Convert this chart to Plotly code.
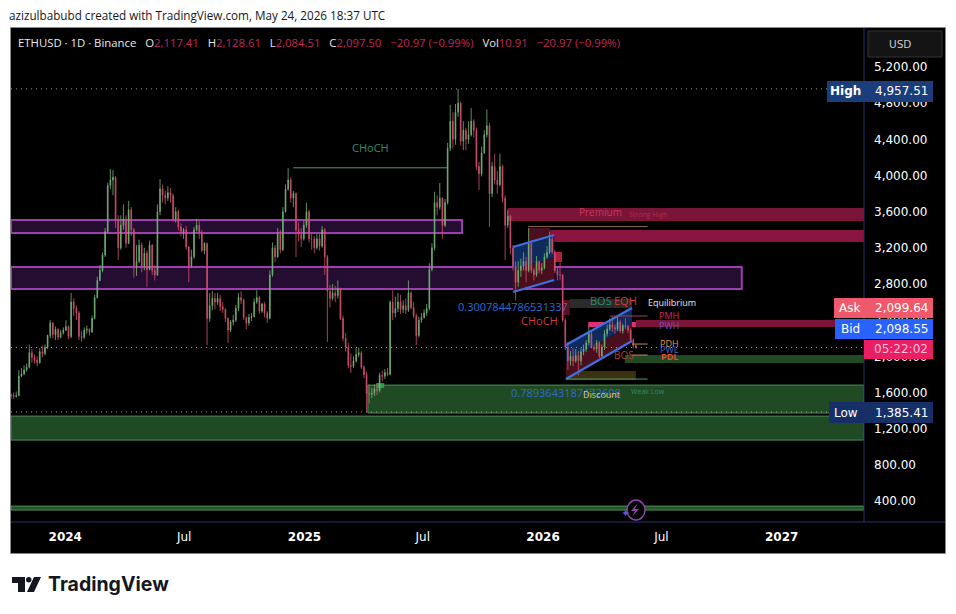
import pandas as pd
import plotly.graph_objs as go

W = 956
H = 614
PLOT_L = 11
PLOT_R = 864
PLOT_T = 28
PLOT_B = 522

FONT = 'DejaVu Sans'
HEAD_FONT = 'Open Sans'

# price data, one candle every 4 days
START_DATE = '2023-10-10'
closes = [
    1570, 1555, 1565, 1780, 1805, 1850, 1880, 2040, 1990, 1960,
    1930, 2050, 2030, 2100, 2230, 2370, 2240, 2300, 2210, 2260,
    2290, 2330, 2220, 2600, 2530, 2480, 2220, 2210, 2290, 2300,
    2270, 2420, 2650, 2840, 2950, 3120, 3380, 3890, 3950, 3980,
    3500, 3200, 3450, 3520, 3250, 3620, 3400, 3000, 3050, 3230,
    3000, 3140, 2960, 3230, 2950, 2900, 3600, 3850, 3780, 3750,
    3810, 3780, 3520, 3600, 3430, 3380, 3400, 3210, 3000, 3100,
    3400, 3450, 3370, 3170, 3250, 2420, 2560, 2640, 2600, 2640,
    2550, 2520, 2420, 2290, 2380, 2400, 2530, 2650, 2620, 2430,
    2370, 2430, 2440, 2600, 2650, 2500, 2580, 2480, 2420, 2900,
    3200, 3100, 3350, 3180, 3600, 3850, 3950, 3750, 3800, 3400,
    3350, 3300, 3450, 3600, 3300, 3300, 3200, 3300, 3220, 3400,
    3100, 2720, 2640, 2700, 2670, 2750, 2420, 2200, 2100, 1900,
    1890, 1950, 2020, 2040, 1880, 1800, 1590, 1580, 1590, 1640,
    1620, 1790, 1780, 1820, 1800, 2600, 2480, 2530, 2600, 2520,
    2560, 2510, 2700, 2540, 2450, 2230, 2400, 2430, 2480, 2530,
    2960, 3200, 3700, 3650, 3750, 3450, 3700, 4300, 4600, 4400,
    4700, 4800, 4380, 4500, 4400, 4450, 4600, 4500, 4100, 4020,
    4250, 4450, 4550, 3800, 4100, 3950, 3900, 4100, 3750, 3450,
    3550, 3200, 3000, 2820, 2950, 3000, 3050, 2950, 3250, 2950,
    2900, 3050, 2950, 2980, 3100, 3150, 3300, 3150, 2950, 2900,
    2900, 2400, 2100, 1950, 2000, 1950, 2010, 1950, 2050, 2080,
    2150, 2250, 2100, 2080, 2150, 2000, 2100, 2250, 2300, 2350,
    2320, 2300, 2380, 2280, 2340, 2330, 2290, 2180, 2120, 2097.5,
]
highs = [
    1590, 1600, 1610, 1850, 1870, 1900, 1920, 2130, 2080, 2020,
    2000, 2090, 2120, 2130, 2240, 2400, 2380, 2330, 2310, 2290,
    2320, 2400, 2340, 2700, 2640, 2560, 2500, 2280, 2320, 2340,
    2310, 2450, 2680, 2880, 3010, 3150, 3420, 3920, 4072, 4060,
    3990, 3560, 3560, 3680, 3560, 3720, 3650, 3420, 3230, 3290,
    3260, 3200, 3170, 3280, 3240, 3010, 3680, 3960, 3900, 3830,
    3880, 3860, 3800, 3650, 3620, 3470, 3420, 3440, 3220, 3180,
    3430, 3520, 3500, 3400, 3260, 3250, 2700, 2720, 2700, 2700,
    2680, 2600, 2530, 2430, 2400, 2460, 2570, 2700, 2720, 2640,
    2440, 2470, 2480, 2640, 2730, 2670, 2590, 2600, 2500, 2950,
    3260, 3230, 3420, 3400, 3650, 3900, 4080, 3980, 3830, 3810,
    3480, 3420, 3500, 3700, 3620, 3360, 3330, 3350, 3350, 3440,
    3420, 3120, 2790, 2800, 2780, 2840, 2760, 2450, 2260, 2150,
    2030, 2000, 2090, 2100, 2060, 1900, 1830, 1690, 1650, 1690,
    1700, 1820, 1840, 1860, 1870, 2620, 2730, 2660, 2700, 2680,
    2620, 2640, 2840, 2720, 2600, 2470, 2440, 2480, 2520, 2580,
    3030, 3250, 3820, 3780, 3917, 3760, 3740, 4360, 4780, 4700,
    4790, 4957, 4820, 4600, 4530, 4600, 4745, 4620, 4530, 4150,
    4320, 4500, 4730, 4580, 4150, 4240, 4050, 4240, 4120, 3780,
    3620, 3560, 3230, 3050, 3050, 3080, 3150, 3100, 3420, 3280,
    2980, 3110, 3060, 3030, 3140, 3220, 3380, 3340, 3180, 3000,
    3040, 2910, 2420, 2160, 2060, 2090, 2080, 2060, 2090, 2130,
    2180, 2330, 2280, 2130, 2180, 2170, 2130, 2290, 2350, 2420,
    2440, 2350, 2440, 2400, 2360, 2420, 2350, 2310, 2200, 2128.61,
]
lows = [
    1530, 1530, 1545, 1560, 1770, 1790, 1830, 1870, 1930, 1920,
    1890, 1920, 1990, 2010, 2080, 2200, 2200, 2180, 2180, 2200,
    2240, 2280, 2190, 2200, 2450, 2400, 2180, 2160, 2190, 2250,
    2230, 2260, 2410, 2640, 2830, 2930, 3100, 3360, 3850, 3780,
    3420, 3065, 3180, 3400, 3200, 3240, 3330, 2870, 2890, 3030,
    2930, 2950, 2770, 2950, 2900, 2840, 2890, 3560, 3700, 3680,
    3720, 3700, 3490, 3480, 3390, 3330, 3300, 3180, 2820, 2980,
    3080, 3380, 3300, 3150, 3130, 2125, 2380, 2510, 2520, 2570,
    2500, 2480, 2380, 2150, 2270, 2340, 2380, 2500, 2580, 2400,
    2300, 2340, 2390, 2430, 2580, 2470, 2480, 2430, 2370, 2410,
    2880, 3040, 3090, 3140, 3160, 3590, 3830, 3700, 3650, 3100,
    3270, 3210, 3280, 3420, 3260, 3180, 3140, 3180, 3170, 3200,
    2900, 2160, 2540, 2620, 2600, 2640, 2400, 2170, 2050, 1870,
    1815, 1870, 1930, 1990, 1860, 1760, 1385, 1480, 1540, 1560,
    1570, 1600, 1720, 1750, 1780, 1790, 2400, 2430, 2490, 2470,
    2480, 2470, 2490, 2520, 2420, 2125, 2210, 2370, 2420, 2450,
    2510, 2940, 3170, 3560, 3620, 3300, 3430, 3680, 4270, 4300,
    4340, 4650, 4330, 4280, 4280, 4350, 4430, 4420, 4060, 3840,
    3990, 4240, 4420, 3430, 3760, 3900, 3800, 3880, 3700, 3065,
    3420, 3130, 2950, 2620, 2770, 2880, 2950, 2820, 2930, 2920,
    2840, 2880, 2920, 2910, 2960, 3080, 3130, 3130, 2920, 2840,
    2840, 2380, 2070, 1850, 1900, 1890, 1930, 1790, 1900, 2010,
    2050, 2120, 2090, 2060, 2040, 1980, 1980, 2070, 2220, 2280,
    2270, 2250, 2280, 2260, 2250, 2300, 2260, 2170, 2090, 2084.51,
]
first_open = 1565

price_ticks = [400, 800, 1200, 1600, 2000, 2400, 2800, 3200, 3600, 4000, 4400, 4800, 5200]
time_ticks = ['2024-01-01', '2024-07-01', '2025-01-01', '2025-07-01', '2026-01-01', '2026-07-01', '2027-01-01']
time_labels = ['<b>2024</b>', 'Jul', '<b>2025</b>', 'Jul', '<b>2026</b>', 'Jul', '<b>2027</b>']

X_MIN = '2023-10-10'
X_MAX = '2027-05-07'
Y_MIN = 168
Y_MAX = 5631

# zones: name, x0, x1, price low, price high, fill, border
zones = [
    ['purple1', X_MIN, '2025-08-30', 3364, 3508, '#240d30', '#9c3fae', 2],
    ['purple2', X_MIN, '2026-11-01', 2744, 2988, '#240d30', '#9c3fae', 2],
    ['premium', '2025-11-08', X_MAX, 3497, 3640, '#7a1438', None, 0],
    ['strong', '2026-01-12', X_MAX, 3264, 3397, '#8a1440', None, 0],
    ['dark_red', '2025-12-09', '2026-01-12', 3176, 3419, '#4a0f1c', None, 0],
    ['demand1', '2025-04-08', X_MAX, 1373, 1682, '#1f4a24', '#4f8a57', 1],
    ['demand2', X_MIN, X_MAX, 1074, 1339, '#1f4a24', '#4f8a57', 1],
    ['demand3', X_MIN, X_MAX, 300, 344, '#23562a', '#4f8a57', 1],
    ['mid_green', '2026-05-06', X_MAX, 1926, 2014, '#1f4a24', None, 0],
    ['brown', '2026-02-05', '2026-05-23', 1738, 1837, '#3b3010', None, 0],
    ['order_block', '2025-04-21', '2025-05-03', 1649, 1704, '#2e9a4a', None, 0],
    ['red_block', '2026-01-19', '2026-01-30', 3043, 3154, '#b0203a', None, 0],
    ['red_block2', '2026-01-30', '2026-02-11', 2457, 2623, '#5a1020', None, 0],
    ['eqh_box', '2026-02-11', '2026-05-17', 2534, 2634, '#2b2b2b', None, 0],
    ['pink_band', '2026-05-23', X_MAX, 2324, 2401, '#7a1438', None, 0],
    ['pink_strip', '2026-03-11', '2026-05-23', 2324, 2379, '#e0306f', None, 0],
]

# channels: top line and bottom line, as date and price pairs
channel1_x = ['2025-11-16', '2026-01-18']
channel1_top = [3209, 3342]
channel1_mid = [2960, 3090]
channel1_bottom = [2711, 2844]
channel2_x = ['2026-02-05', '2026-05-17']
channel2_top = [2125, 2534]
channel2_mid = [1937, 2350]
channel2_bottom = [1749, 2169]

# thin structure lines: x0, x1, price, colour
levels = [
    ['2024-12-15', '2025-08-07', 4085, '#4f9a6a'],
    ['2025-12-09', '2026-06-10', 3435, '#8a6a50'],
    ['2026-04-13', '2026-06-10', 2446, '#a04050'],
    ['2026-05-17', '2026-06-10', 2136, '#c09050'],
    ['2026-05-17', '2026-06-10', 2014, '#c09050'],
    ['2026-02-05', '2026-06-10', 1749, '#4f9a6a'],
]
high_price = 4957.51
low_price = 1385.41
last_price = 2097.5


def px_x(x):
    return (x - PLOT_L) / (PLOT_R - PLOT_L)


def px_y(y):
    return (PLOT_B - y) / (PLOT_B - PLOT_T)


def box(x0, y0, x1, y1, color, layer='above', border=None, border_width=0):
    return dict(type='rect', xref='paper', yref='paper', x0=px_x(x0), x1=px_x(x1),
                y0=px_y(y0), y1=px_y(y1), fillcolor=color, layer=layer,
                line=dict(color=border, width=border_width))


def label(x, y, text, color='#ffffff', size=11, anchor='left', font=FONT):
    return dict(xref='paper', yref='paper', x=px_x(x), y=px_y(y), text=text, showarrow=False,
                xanchor=anchor, yanchor='middle', align=anchor,
                font=dict(color=color, size=size, family=font))


def poly(points, color):
    path = ''
    for i, (x, y) in enumerate(points):
        path += '{}{:.5f},{:.5f} '.format('M' if i == 0 else 'L', px_x(x), px_y(y))
    return dict(type='path', xref='paper', yref='paper', path=path + 'Z',
                fillcolor=color, line=dict(width=0), layer='above')


# the channel fill has to sit under the candles, scatter traces always draw over them
def channel_fill(xs, upper, lower, color):
    path = 'M{},{} L{},{} L{},{} L{},{} Z'.format(xs[0], upper[0], xs[1], upper[1], xs[1], lower[1], xs[0], lower[0])
    return dict(type='path', xref='x', yref='y', path=path, fillcolor=color, line=dict(width=0), layer='below')


def channel_line(xs, ys):
    return go.Scatter(x=xs, y=ys, mode='lines', line=dict(color='#3f6fe0', width=2.2),
                      hoverinfo='skip', showlegend=False)


def dotted(price, color, x1=X_MAX):
    return dict(type='line', x0=X_MIN, x1=x1, y0=price, y1=price, xref='x', yref='y',
                layer='above', line=dict(color=color, width=1, dash='1px,4px'))


dates = pd.date_range(START_DATE, periods=len(closes), freq='4D')
opens = [first_open] + closes[:-1]

traces = [
    go.Candlestick(x=dates, open=opens, high=highs, low=lows, close=closes, whiskerwidth=0,
                   increasing=dict(line=dict(color='#72b276', width=0.8), fillcolor='#72b276'),
                   decreasing=dict(line=dict(color='#d2506f', width=0.8), fillcolor='#d2506f'),
                   hoverinfo='skip', showlegend=False),
    channel_line(channel1_x, channel1_top),
    channel_line(channel1_x, channel1_bottom),
    channel_line(channel2_x, channel2_top),
    channel_line(channel2_x, channel2_bottom),
]

shapes = [
    # black panel behind the price and time axes
    box(10.5, 27.5, 945.5, 553.5, '#000000', layer='below', border='#8a8a8a', border_width=1),
]
for name, x0, x1, p0, p1, fill, border, width in zones:
    shapes.append(dict(type='rect', x0=x0, x1=x1, y0=p0, y1=p1, xref='x', yref='y', fillcolor=fill,
                       layer='below', line=dict(color=border, width=width)))
shapes += [
    channel_fill(channel1_x, channel1_top, channel1_mid, '#0f2a5c'),
    channel_fill(channel1_x, channel1_mid, channel1_bottom, '#4a0f1c'),
    channel_fill(channel2_x, channel2_top, channel2_mid, '#0f2a5c'),
    channel_fill(channel2_x, channel2_mid, channel2_bottom, '#4a0f1c'),
]
for x0, x1, price, color in levels:
    shapes.append(dict(type='line', x0=x0, x1=x1, y0=price, y1=price, xref='x', yref='y',
                       layer='above', line=dict(color=color, width=1)))
shapes.append(dotted(high_price, '#a0a0a0', '2027-03-25'))
shapes.append(dotted(low_price, '#a0a0a0', '2027-03-25'))
shapes.append(dotted(last_price, '#c09080'))

shapes += [
    # axis edges
    dict(type='line', xref='paper', yref='paper', x0=1, x1=1, y0=0, y1=1, layer='above',
         line=dict(color='#27336b', width=1)),
    dict(type='line', xref='paper', yref='paper', x0=0, x1=px_x(945), y0=0, y1=0, layer='above',
         line=dict(color='#27336b', width=1)),
    # price tags
    box(827, 81, 933, 102, '#1b3d7c'),
    box(834, 298, 864, 318, '#f0596c'),
    box(864, 298, 933, 318, '#f0596c'),
    box(835, 319, 864, 339, '#2962ff'),
    box(864, 319, 933, 339, '#2962ff'),
    box(864, 340, 933, 359, '#e91e63'),
    box(829, 402, 933, 423, '#162f66'),
    # currency button
    box(868, 31, 942, 57, '#141414', border='#333333', border_width=1),
    # bolt badge
    dict(type='circle', xref='paper', yref='paper', x0=px_x(627), x1=px_x(645), y0=px_y(500), y1=px_y(520),
         line=dict(color='#8e44ad', width=1.5), fillcolor='#000000', layer='above'),
    poly([(638, 503), (631, 511), (635, 511), (632, 517), (639, 509), (635, 509)], '#8e44ad'),
    # logo
    poly([(12, 577), (25, 577), (25, 592), (18, 592), (18, 583), (12, 583)], '#131722'),
    poly([(34, 577), (41, 577), (34, 592), (27, 592)], '#131722'),
    dict(type='circle', xref='paper', yref='paper', x0=px_x(26), x1=px_x(31.5), y0=px_y(577), y1=px_y(582.5),
         fillcolor='#131722', line=dict(width=0), layer='above'),
]

RED = '#c2275a'
GAP = '&nbsp;&nbsp;&nbsp;'
legend_text = ('ETHUSD · 1D · Binance' + GAP + 'O<span style="color:{r}">2,117.41</span>' + GAP
               + 'H<span style="color:{r}">2,128.61</span>' + GAP + 'L<span style="color:{r}">2,084.51</span>' + GAP
               + 'C<span style="color:{r}">2,097.50</span>' + GAP + '<span style="color:{r}">−20.97 (−0.99%)</span>' + GAP
               + 'Vol<span style="color:{r}">10.91</span>' + GAP + '<span style="color:{r}">−20.97 (−0.99%)</span>').format(r=RED)

annotations = [
    label(7, 15, 'azizulbabubd created with TradingView.com, May 24, 2026 18:37 UTC', '#131722', 11.7, font=HEAD_FONT),
    label(16, 42, legend_text, '#e8e8e8', 11.35, font=HEAD_FONT),
    label(887, 44, 'USD', '#c8c8c8', 10.5),
    label(370, 147, 'CHoCH', '#2e8b6f', 11, 'center', HEAD_FONT),
    label(600, 212, 'Premium', '#c8385a', 10, 'center', HEAD_FONT),
    label(648, 214, 'Strong High', '#a83050', 7, 'center', HEAD_FONT),
    label(513, 306, '0.3007844786531337', '#2f6bd0', 11, 'center', HEAD_FONT),
    label(539, 320, 'CHoCH', '#d03a3a', 11, 'center', HEAD_FONT),
    label(601, 301, 'BOS', '#2e8b6f', 11, 'center', HEAD_FONT),
    label(625, 301, 'EQH', '#d03a3a', 11, 'center', HEAD_FONT),
    label(672, 302, 'Equilibrium', '#e8e8f0', 9, 'center', HEAD_FONT),
    label(669, 315, 'PMH', '#d03060', 9, 'center', HEAD_FONT),
    label(669, 325, 'PWH', '#7050c8', 9, 'center', HEAD_FONT),
    label(669, 343, 'PDH', '#e09a30', 9, 'center', HEAD_FONT),
    label(669, 349, 'PWL', '#4a60c8', 9, 'center', HEAD_FONT),
    label(669, 356, '<b>PDL</b>', '#e05030', 9, 'center', HEAD_FONT),
    label(624, 355, 'BOS', '#b04030', 10, 'center', HEAD_FONT),
    label(566, 392, '0.7893643187472608', '#2f6bd0', 11, 'center', HEAD_FONT),
    label(601, 394, 'Discount', '#e8c840', 9, 'center', HEAD_FONT),
    label(648, 391, 'Weak Low', '#2e8b6f', 7, 'center', HEAD_FONT),
    label(845, 91, '<b>High</b>', '#ffffff', 12, 'center'),
    label(901, 91, '4,957.51', '#ffffff', 12, 'center'),
    label(849, 308, 'Ask', '#ffffff', 12, 'center'),
    label(901, 308, '2,099.64', '#ffffff', 12, 'center'),
    label(850, 329, 'Bid', '#ffffff', 12, 'center'),
    label(901, 329, '2,098.55', '#ffffff', 12, 'center'),
    label(901, 349, '05:22:02', '#ffc0d8', 12, 'center'),
    label(846, 413, 'Low', '#ffffff', 12, 'center'),
    label(901, 413, '1,385.41', '#ffffff', 12, 'center'),
    label(625, 513, '✦', '#6a4cd8', 11, 'center'),
    label(46, 584, '<b>TradingView</b>', '#131722', 19.5, font='Inter'),
]

layout = go.Layout(
    width=W, height=H, paper_bgcolor='#ffffff', plot_bgcolor='#000000',
    margin=dict(l=PLOT_L, r=W - PLOT_R, t=PLOT_T, b=H - PLOT_B, pad=0),
    showlegend=False, shapes=shapes, annotations=annotations, boxgap=0.6,
    xaxis=dict(type='date', range=[X_MIN, X_MAX], rangeslider=dict(visible=False), showgrid=False, zeroline=False,
               tickmode='array', tickvals=time_ticks, ticktext=time_labels, ticks='',
               tickfont=dict(color='#ffffff', size=12, family=FONT), ticklabelstandoff=6),
    yaxis=dict(side='right', range=[Y_MIN, Y_MAX], showgrid=False, zeroline=False,
               tickmode='array', tickvals=price_ticks, ticks='', ticktext=['{:,.2f}'.format(p) for p in price_ticks],
               tickfont=dict(color='#ffffff', size=12, family=FONT), ticklabelstandoff=9),
)

fig = go.Figure(data=traces, layout=layout)
fig.write_html('out.html', config=dict(displayModeBar=False), post_script="document.body.style.margin='0';")
